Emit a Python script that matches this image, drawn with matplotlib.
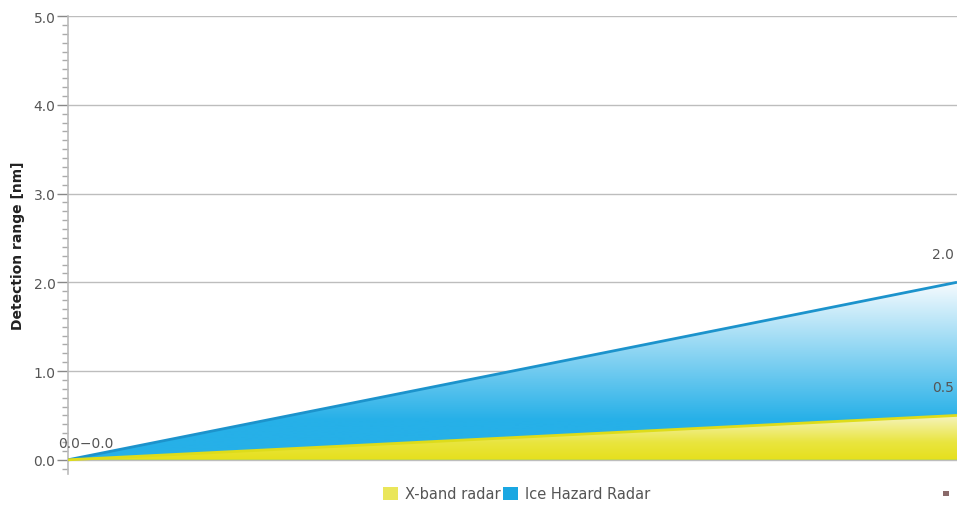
import numpy as np
import matplotlib
matplotlib.use("Agg")
import matplotlib.pyplot as plt
from matplotlib.colors import to_rgb
from matplotlib.patches import Patch, Rectangle
from matplotlib.ticker import MultipleLocator

# ============================================================
# DATA
# ============================================================

x_points = [0, 1]
xband_range = [0.0, 0.5]
ice_range = [0.0, 2.0]
series_names = ["X-band radar", "Ice Hazard Radar"]
y_ticks = [0.0, 1.0, 2.0, 3.0, 4.0, 5.0]

BLUE = "#26B0E8"
BLUE_LINE = "#1C93CC"
YELLOW = "#E6E01C"
YELLOW_LINE = "#DEDC1A"
TEXT = "#555555"


def gradient_fill(ax, x, y, stops, ymax):
    """Fill under (x, y) with a vertical gradient given by (yval, color) stops."""
    poly = ax.fill_between(x, 0, y, facecolor="none", edgecolor="none")
    ys = np.linspace(0, ymax, 300)
    sv = [s[0] for s in stops]
    cols = np.array([to_rgb(s[1]) for s in stops])
    rgb = np.stack([np.interp(ys, sv, cols[:, i]) for i in range(3)], axis=1)
    img = rgb[:, None, :]
    im = ax.imshow(img, extent=[min(x), max(x), 0, ymax], origin="lower",
                   aspect="auto", interpolation="bilinear", zorder=1)
    im.set_clip_path(poly.get_paths()[0], transform=ax.transData)
    return im


def main() -> None:
    fig = plt.figure(figsize=(9.57, 5.06), dpi=100)
    ax = fig.add_axes([68 / 957, 1 - 475 / 506, 1 - 68 / 957, (475 - 17) / 506])

    # blue area (Ice Hazard Radar)
    gradient_fill(ax, x_points, ice_range,
                  [(0.0, BLUE), (0.45, BLUE), (2.0, "#F6FBFE")], 2.0)
    ax.plot(x_points, ice_range, color=BLUE_LINE, lw=2, zorder=4,
            solid_capstyle="butt")

    # yellow area (X-band radar)
    gradient_fill(ax, x_points, xband_range,
                  [(0.0, YELLOW), (0.2, "#E9E540"), (0.5, "#F6F4C0")], 0.5)
    ax.plot(x_points, xband_range, color=YELLOW_LINE, lw=2, zorder=4,
            solid_capstyle="butt")

    ax.set_xlim(0, 1)
    ax.set_ylim(-0.16, 5.0)

    # grid
    for t in y_ticks:
        ax.axhline(t, color="#BDBDBD", lw=1, zorder=0.5)

    ax.set_yticks(y_ticks)
    ax.set_yticklabels([f"{t:.1f}" for t in y_ticks])
    ax.yaxis.set_minor_locator(MultipleLocator(0.1))
    ax.tick_params(axis="y", which="major", length=8, width=1,
                   color="#888888", labelsize=10, labelcolor=TEXT, pad=1)
    ax.tick_params(axis="y", which="minor", length=4, width=1, color="#AAAAAA")
    ax.set_xticks([])

    for s in ["top", "right", "bottom"]:
        ax.spines[s].set_visible(False)
    ax.spines["left"].set_color("#BBBBBB")
    ax.spines["left"].set_linewidth(1.2)

    ax.set_ylabel("Detection range [nm]", fontsize=10, fontweight="bold",
                  color="#222222", labelpad=6)

    # data labels
    ax.annotate("0.0\u22120.0", (x_points[0], xband_range[0]),
                xytext=(18, 17), textcoords="offset pixels",
                ha="center", va="center", fontsize=10, color=TEXT,
                annotation_clip=False, zorder=6)
    ax.annotate(f"{ice_range[1]:.1f}", (x_points[1], ice_range[1]),
                xytext=(-14, 28), textcoords="offset pixels",
                ha="center", va="center", fontsize=10, color=TEXT,
                annotation_clip=False, zorder=6)
    ax.annotate(f"{xband_range[1]:.1f}", (x_points[1], xband_range[1]),
                xytext=(-14, 28), textcoords="offset pixels",
                ha="center", va="center", fontsize=10, color=TEXT,
                annotation_clip=False, zorder=6)

    handles = [
        Patch(facecolor="#EAE65A", edgecolor="none", label=series_names[0]),
        Patch(facecolor="#1AA7E2", edgecolor="none", label=series_names[1]),
    ]
    fig.legend(handles=handles, loc="center", bbox_to_anchor=(0.54, 0.022),
               ncol=2, frameon=False, fontsize=10.5, labelcolor=TEXT,
               handlelength=1.0, handleheight=1.0, handletextpad=0.5,
               columnspacing=0.2)

    # small export icon in the corner
    fig.add_artist(Rectangle((943 / 957, 1 - 497 / 506), 6 / 957, 5 / 506,
                             transform=fig.transFigure, facecolor="#8A6A6A",
                             edgecolor="none"))

    fig.savefig("out.png", dpi=100)


if __name__ == "__main__":
    main()
